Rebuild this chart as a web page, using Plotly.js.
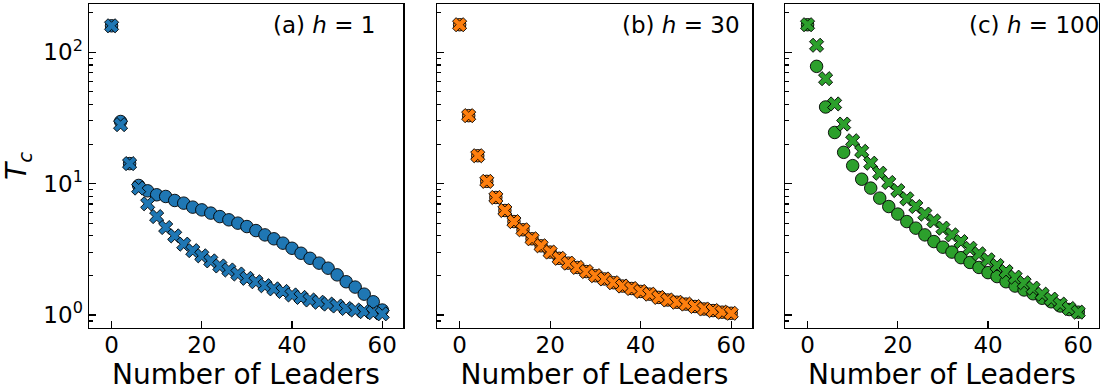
<!DOCTYPE html>
<html>
<head>
<meta charset="utf-8">
<script src="https://cdn.plot.ly/plotly-3.0.1.min.js"></script>
<style>html,body{margin:0;padding:0;background:#fff;}#chart{width:1100px;height:392px;}</style>
</head>
<body>
<div id="chart"></div>
<script>
// Number of leaders (x values)
const leaders = [0,2,4,6,8,10,12,14,16,18,20,22,24,26,28,30,32,34,36,38,40,42,44,46,48,50,52,54,56,58,60];

// (a) h = 1
const aCircle = [159,29.7,14.2,9.68,8.81,8.22,7.98,7.44,7.10,6.62,6.31,5.96,5.61,5.30,5.00,4.71,4.39,4.07,3.80,3.52,3.22,2.95,2.70,2.48,2.27,2.02,1.79,1.63,1.44,1.26,1.09];
const aCross  = [159,28.1,14.2,9.24,7.02,5.61,4.63,4.00,3.46,3.09,2.82,2.58,2.36,2.20,2.05,1.90,1.79,1.67,1.58,1.51,1.42,1.36,1.30,1.25,1.21,1.17,1.12,1.09,1.06,1.04,1.02];

// (b) h = 30
const bCircle = [162,32.9,16.3,10.4,7.84,6.24,5.14,4.45,3.80,3.36,3.01,2.70,2.48,2.30,2.14,1.99,1.88,1.76,1.66,1.59,1.51,1.44,1.36,1.30,1.25,1.21,1.16,1.11,1.08,1.05,1.03];
const bCross  = [162,32.9,16.3,10.4,7.84,6.24,5.14,4.45,3.80,3.36,3.01,2.70,2.48,2.30,2.14,1.99,1.88,1.76,1.66,1.59,1.51,1.44,1.36,1.30,1.25,1.21,1.16,1.11,1.08,1.05,1.03];

// (c) h = 100
const cCircle = [162,78.1,38.3,24.5,17.3,13.7,10.8,9.24,7.75,6.69,5.86,5.14,4.58,4.07,3.62,3.28,3.01,2.73,2.51,2.30,2.10,1.96,1.79,1.66,1.55,1.45,1.34,1.26,1.17,1.10,1.05];
const cCross  = [162,113,62.9,40.4,28.4,21.2,17.6,14.3,12.0,10.2,8.85,7.66,6.69,5.86,5.20,4.58,4.07,3.62,3.22,2.92,2.63,2.38,2.14,1.94,1.76,1.60,1.44,1.32,1.21,1.12,1.05];

const panelLabels = ['(a) <i>h</i> = 1', '(b) <i>h</i> = 30', '(c) <i>h</i> = 100'];
const colors = ['#1f77b4', '#ff7f0e', '#2ca02c'];
const xTicks = [0, 20, 40, 60];
const yMajor = [1, 10, 100];
const yMajorText = ['10<sup>0</sup>', '10<sup>1</sup>', '10<sup>2</sup>'];
const yMinor = [0.8,0.9,2,3,4,5,6,7,8,9,20,30,40,50,60,70,80,90,200];

const panels = [[aCircle, aCross], [bCircle, bCross], [cCircle, cCross]];
const FONT = 'DejaVu Sans, sans-serif';

const traces = [];
panels.forEach((p, i) => {
  const xa = i === 0 ? 'x' : 'x' + (i + 1);
  const ya = i === 0 ? 'y' : 'y' + (i + 1);
  traces.push({
    x: leaders, y: p[0], xaxis: xa, yaxis: ya, type: 'scatter', mode: 'markers',
    marker: {symbol: 'circle', size: 12.5, color: colors[i], line: {color: '#000', width: 0.9}},
    hoverinfo: 'skip', showlegend: false
  });
  traces.push({
    x: leaders, y: p[1], xaxis: xa, yaxis: ya, type: 'scatter', mode: 'markers',
    marker: {symbol: 'x', size: 12.5, color: colors[i], line: {color: '#000', width: 0.9}},
    hoverinfo: 'skip', showlegend: false
  });
});

const domains = [[89/1100, 403/1100], [437/1100, 752/1100], [785/1100, 1099/1100]];
const yDom = [1 - 327.7/392, 1 - 4.3/392];

const layout = {
  width: 1100, height: 392,
  margin: {l: 0, r: 0, t: 0, b: 0},
  paper_bgcolor: '#fff', plot_bgcolor: '#fff',
  font: {family: FONT, color: '#000', size: 22},
  showlegend: false,
  annotations: []
};

domains.forEach((d, i) => {
  const s = i === 0 ? '' : String(i + 1);
  layout['xaxis' + s] = {
    domain: d, range: [-5, 64.6], anchor: 'y' + s,
    showgrid: false, zeroline: false,
    showline: true, mirror: true, linecolor: '#000', linewidth: 1.5,
    ticks: 'inside', ticklen: 7, tickwidth: 1.3, tickcolor: '#000',
    tickvals: xTicks, ticktext: xTicks.map(String),
    ticklabelstandoff: -4,
    tickfont: {family: FONT, size: 23},
    title: {text: 'Number of Leaders', font: {family: FONT, size: 28}, standoff: 2}
  };
  layout['yaxis' + s] = {
    domain: yDom, type: 'log', range: [-0.097, 2.365], anchor: 'x' + s,
    showgrid: false, zeroline: false,
    showline: true, mirror: true, linecolor: '#000', linewidth: 1.5,
    ticks: 'inside', ticklen: 7, tickwidth: 1.3, tickcolor: '#000',
    tickvals: yMajor, ticktext: yMajorText,
    showticklabels: i === 0,
    tickfont: {family: FONT, size: 23},
    minor: {tickvals: yMinor, ticks: 'inside', ticklen: 4, tickwidth: 1.1, tickcolor: '#000', showgrid: false},
    title: i === 0 ? {text: '<i>T<sub>c</sub></i>', font: {family: FONT, size: 28}, standoff: 10} : undefined
  };
  layout.annotations.push({
    text: panelLabels[i], xref: 'x' + s + ' domain', yref: 'y' + s + ' domain',
    x: 0.58, y: 0.936, xanchor: 'left', yanchor: 'middle', showarrow: false,
    font: {family: FONT, size: 23, color: '#000'}
  });
});

Plotly.newPlot('chart', traces, layout, {staticPlot: true, displayModeBar: false});
</script>
</body>
</html>
